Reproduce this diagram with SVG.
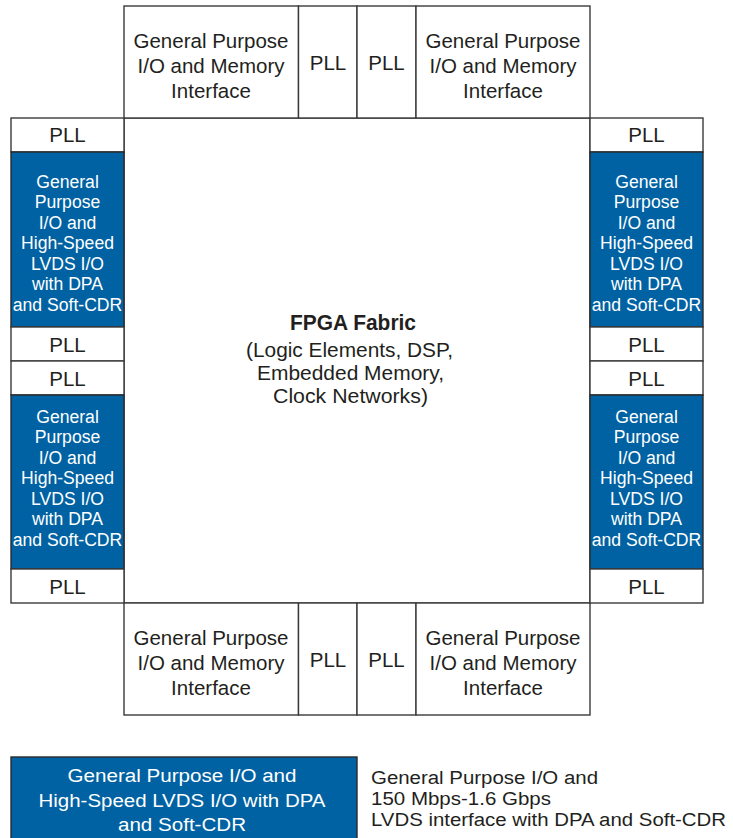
<svg xmlns="http://www.w3.org/2000/svg" width="733" height="838" viewBox="0 0 733 838">
<style>
.box{fill:#ffffff;stroke:#3a3a3a;stroke-width:1.4}
.blue{fill:#0062a3;stroke:#2a2a2a;stroke-width:1.4}
.t{font-family:"Liberation Sans",Arial,sans-serif;fill:#231f20;text-anchor:middle}
.pll{font-size:20.5px}
.io{font-size:20.5px}
.fab{font-size:20px}
.w{font-family:"Liberation Sans",Arial,sans-serif;fill:#ffffff;text-anchor:middle;font-size:17.6px}
.lg{font-family:"Liberation Sans",Arial,sans-serif;font-size:18px}
</style>
<rect width="733" height="838" fill="#ffffff"/>
<g id="fabric">
<rect class="box" x="124" y="118" width="466" height="485"/>
<text class="t" x="353" y="330" font-size="22" font-weight="bold" textLength="126" lengthAdjust="spacingAndGlyphs">FPGA Fabric</text>
<text class="t fab" x="349.5" y="356.5" textLength="207" lengthAdjust="spacingAndGlyphs">(Logic Elements, DSP,</text>
<text class="t fab" x="350.5" y="380" textLength="187" lengthAdjust="spacingAndGlyphs">Embedded Memory,</text>
<text class="t fab" x="350.5" y="403" textLength="155" lengthAdjust="spacingAndGlyphs">Clock Networks)</text>
</g>
<g id="top-io-left">
<rect class="box" x="124" y="6" width="174.5" height="112"/>
<text class="t io" x="211" y="48">General Purpose</text>
<text class="t io" x="211" y="73">I/O and Memory</text>
<text class="t io" x="211" y="98">Interface</text>
</g>
<g id="top-pll-1">
<rect class="box" x="298.5" y="6" width="58.5" height="112"/>
<text class="t pll" x="328" y="70">PLL</text>
</g>
<g id="top-pll-2">
<rect class="box" x="357" y="6" width="59" height="112"/>
<text class="t pll" x="386.5" y="70">PLL</text>
</g>
<g id="top-io-right">
<rect class="box" x="416" y="6" width="174" height="112"/>
<text class="t io" x="503" y="48">General Purpose</text>
<text class="t io" x="503" y="73">I/O and Memory</text>
<text class="t io" x="503" y="98">Interface</text>
</g>
<g id="bottom-io-left">
<rect class="box" x="124" y="603" width="174.5" height="112"/>
<text class="t io" x="211" y="645">General Purpose</text>
<text class="t io" x="211" y="670">I/O and Memory</text>
<text class="t io" x="211" y="695">Interface</text>
</g>
<g id="bottom-pll-1">
<rect class="box" x="298.5" y="603" width="58.5" height="112"/>
<text class="t pll" x="328" y="667">PLL</text>
</g>
<g id="bottom-pll-2">
<rect class="box" x="357" y="603" width="59" height="112"/>
<text class="t pll" x="386.5" y="667">PLL</text>
</g>
<g id="bottom-io-right">
<rect class="box" x="416" y="603" width="174" height="112"/>
<text class="t io" x="503" y="645">General Purpose</text>
<text class="t io" x="503" y="670">I/O and Memory</text>
<text class="t io" x="503" y="695">Interface</text>
</g>
<g id="left-pll-1">
<rect class="box" x="11" y="118" width="113" height="34"/>
<text class="t pll" x="67.5" y="142">PLL</text>
</g>
<g id="left-lvds-1">
<rect class="blue" x="11" y="152" width="113" height="175"/>
<text class="w" x="67.5" y="187.5">General</text>
<text class="w" x="67.5" y="208">Purpose</text>
<text class="w" x="67.5" y="228.5">I/O and</text>
<text class="w" x="67.5" y="249">High-Speed</text>
<text class="w" x="67.5" y="269.5">LVDS I/O</text>
<text class="w" x="67.5" y="290">with DPA</text>
<text class="w" x="67.5" y="310.5">and Soft-CDR</text>
</g>
<g id="left-pll-2">
<rect class="box" x="11" y="327" width="113" height="34"/>
<text class="t pll" x="67.5" y="352">PLL</text>
</g>
<g id="left-pll-3">
<rect class="box" x="11" y="361" width="113" height="34"/>
<text class="t pll" x="67.5" y="386">PLL</text>
</g>
<g id="left-lvds-2">
<rect class="blue" x="11" y="395" width="113" height="174"/>
<text class="w" x="67.5" y="422.5">General</text>
<text class="w" x="67.5" y="443">Purpose</text>
<text class="w" x="67.5" y="463.5">I/O and</text>
<text class="w" x="67.5" y="484">High-Speed</text>
<text class="w" x="67.5" y="504.5">LVDS I/O</text>
<text class="w" x="67.5" y="525">with DPA</text>
<text class="w" x="67.5" y="545.5">and Soft-CDR</text>
</g>
<g id="left-pll-4">
<rect class="box" x="11" y="569" width="113" height="34"/>
<text class="t pll" x="67.5" y="594">PLL</text>
</g>
<g id="right-pll-1">
<rect class="box" x="590" y="118" width="113" height="34"/>
<text class="t pll" x="646.5" y="142">PLL</text>
</g>
<g id="right-lvds-1">
<rect class="blue" x="590" y="152" width="113" height="175"/>
<text class="w" x="646.5" y="187.5">General</text>
<text class="w" x="646.5" y="208">Purpose</text>
<text class="w" x="646.5" y="228.5">I/O and</text>
<text class="w" x="646.5" y="249">High-Speed</text>
<text class="w" x="646.5" y="269.5">LVDS I/O</text>
<text class="w" x="646.5" y="290">with DPA</text>
<text class="w" x="646.5" y="310.5">and Soft-CDR</text>
</g>
<g id="right-pll-2">
<rect class="box" x="590" y="327" width="113" height="34"/>
<text class="t pll" x="646.5" y="352">PLL</text>
</g>
<g id="right-pll-3">
<rect class="box" x="590" y="361" width="113" height="34"/>
<text class="t pll" x="646.5" y="386">PLL</text>
</g>
<g id="right-lvds-2">
<rect class="blue" x="590" y="395" width="113" height="174"/>
<text class="w" x="646.5" y="422.5">General</text>
<text class="w" x="646.5" y="443">Purpose</text>
<text class="w" x="646.5" y="463.5">I/O and</text>
<text class="w" x="646.5" y="484">High-Speed</text>
<text class="w" x="646.5" y="504.5">LVDS I/O</text>
<text class="w" x="646.5" y="525">with DPA</text>
<text class="w" x="646.5" y="545.5">and Soft-CDR</text>
</g>
<g id="right-pll-4">
<rect class="box" x="590" y="569" width="113" height="34"/>
<text class="t pll" x="646.5" y="594">PLL</text>
</g>
<g id="connectors"></g>
<g id="legend">
<rect class="blue" x="11" y="757" width="346" height="90"/>
<text class="lg" x="182" y="782" fill="#ffffff" text-anchor="middle" textLength="229" lengthAdjust="spacingAndGlyphs">General Purpose I/O and</text>
<text class="lg" x="182" y="807" fill="#ffffff" text-anchor="middle" textLength="287" lengthAdjust="spacingAndGlyphs">High-Speed LVDS I/O with DPA</text>
<text class="lg" x="182" y="831" fill="#ffffff" text-anchor="middle" textLength="128" lengthAdjust="spacingAndGlyphs">and Soft-CDR</text>
<text class="lg" x="371" y="784" fill="#231f20" font-size="17" textLength="227" lengthAdjust="spacingAndGlyphs">General Purpose I/O and</text>
<text class="lg" x="371" y="805" fill="#231f20" font-size="17" textLength="180" lengthAdjust="spacingAndGlyphs">150 Mbps-1.6 Gbps</text>
<text class="lg" x="371" y="826" fill="#231f20" font-size="17" textLength="355" lengthAdjust="spacingAndGlyphs">LVDS interface with DPA and Soft-CDR</text>
</g>
</svg>
